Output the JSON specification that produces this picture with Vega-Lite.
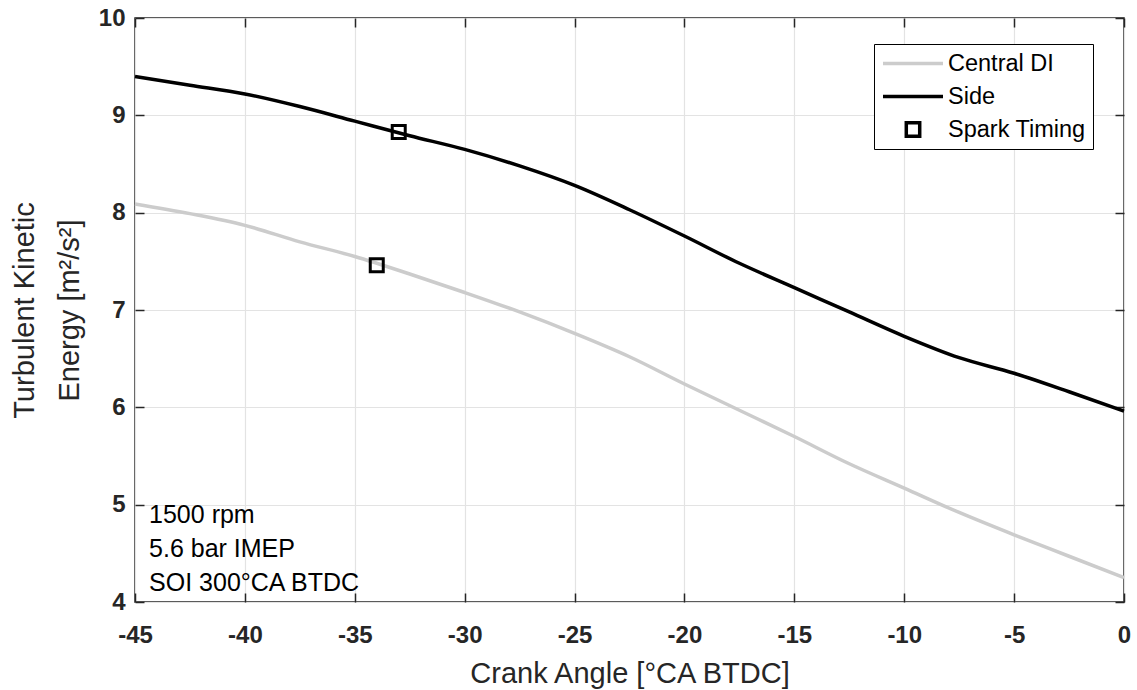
{
  "$schema": "https://vega.github.io/schema/vega-lite/v6.json",
  "width": 989,
  "height": 584,
  "autosize": {"type": "none"},
  "padding": {"left": 135, "top": 18, "right": 13, "bottom": 88},
  "background": "white",
  "config": {
    "font": "Liberation Sans",
    "view": {"stroke": "#262626", "strokeWidth": 1.5}
  },
  "datasets": {
    "curves": [
      {"series": "Central DI", "crank_angle": -45, "tke": 8.09},
      {"series": "Central DI", "crank_angle": -42.5, "tke": 7.99},
      {"series": "Central DI", "crank_angle": -40, "tke": 7.87},
      {"series": "Central DI", "crank_angle": -37.5, "tke": 7.70},
      {"series": "Central DI", "crank_angle": -35, "tke": 7.55},
      {"series": "Central DI", "crank_angle": -32.5, "tke": 7.37},
      {"series": "Central DI", "crank_angle": -30, "tke": 7.18},
      {"series": "Central DI", "crank_angle": -27.5, "tke": 6.98},
      {"series": "Central DI", "crank_angle": -25, "tke": 6.76},
      {"series": "Central DI", "crank_angle": -22.5, "tke": 6.52},
      {"series": "Central DI", "crank_angle": -20, "tke": 6.24},
      {"series": "Central DI", "crank_angle": -17.5, "tke": 5.97},
      {"series": "Central DI", "crank_angle": -15, "tke": 5.70},
      {"series": "Central DI", "crank_angle": -12.5, "tke": 5.42},
      {"series": "Central DI", "crank_angle": -10, "tke": 5.17},
      {"series": "Central DI", "crank_angle": -7.5, "tke": 4.92},
      {"series": "Central DI", "crank_angle": -5, "tke": 4.69},
      {"series": "Central DI", "crank_angle": -2.5, "tke": 4.47},
      {"series": "Central DI", "crank_angle": 0, "tke": 4.25},
      {"series": "Side", "crank_angle": -45, "tke": 9.40},
      {"series": "Side", "crank_angle": -42.5, "tke": 9.31},
      {"series": "Side", "crank_angle": -40, "tke": 9.22},
      {"series": "Side", "crank_angle": -37.5, "tke": 9.09},
      {"series": "Side", "crank_angle": -35, "tke": 8.94},
      {"series": "Side", "crank_angle": -32.5, "tke": 8.79},
      {"series": "Side", "crank_angle": -30, "tke": 8.65},
      {"series": "Side", "crank_angle": -27.5, "tke": 8.48},
      {"series": "Side", "crank_angle": -25, "tke": 8.28},
      {"series": "Side", "crank_angle": -22.5, "tke": 8.03},
      {"series": "Side", "crank_angle": -20, "tke": 7.76},
      {"series": "Side", "crank_angle": -17.5, "tke": 7.48},
      {"series": "Side", "crank_angle": -15, "tke": 7.23},
      {"series": "Side", "crank_angle": -12.5, "tke": 6.98},
      {"series": "Side", "crank_angle": -10, "tke": 6.73},
      {"series": "Side", "crank_angle": -7.5, "tke": 6.51},
      {"series": "Side", "crank_angle": -5, "tke": 6.35},
      {"series": "Side", "crank_angle": -2.5, "tke": 6.16},
      {"series": "Side", "crank_angle": 0, "tke": 5.96}
    ],
    "spark": [
      {"series": "Spark Timing", "curve": "Central DI", "crank_angle": -34, "tke": 7.46},
      {"series": "Spark Timing", "curve": "Side", "crank_angle": -33, "tke": 8.83}
    ]
  },
  "resolve": {"axis": {"x": "independent", "y": "independent"}},
  "layer": [
    {
      "data": {"name": "curves"},
      "mark": {"type": "line", "strokeWidth": 3.5, "interpolate": "monotone"},
      "encoding": {
        "x": {
          "field": "crank_angle", "type": "quantitative",
          "scale": {"domain": [-45, 0], "nice": false, "zero": false},
          "axis": {
            "orient": "bottom",
            "offset": -9,
            "values": [-45, -40, -35, -30, -25, -20, -15, -10, -5, 0],
            "labelExpr": "datum.value < 0 ? '-' + abs(datum.value) : '' + datum.value",
            "title": "Crank Angle [°CA BTDC]",
            "titleFont": "Liberation Sans", "titleFontSize": 29, "titleFontWeight": "normal", "titleColor": "#262626",
            "titlePadding": 12,
            "labelFont": "Liberation Sans", "labelFontSize": 24, "labelFontWeight": "bold", "labelColor": "#262626",
            "labelPadding": 21, "labelFlush": false, "labelOverlap": false,
            "domain": false,
            "ticks": true, "tickColor": "#262626", "tickSize": 9, "tickWidth": 1.5,
            "grid": true, "gridColor": "#e3e3e3", "gridWidth": 1.2
          }
        },
        "y": {
          "field": "tke", "type": "quantitative",
          "scale": {"domain": [4, 10], "nice": false, "zero": false},
          "axis": {
            "orient": "left",
            "offset": -9,
            "values": [4, 5, 6, 7, 8, 9, 10],
            "title": ["Turbulent Kinetic", "Energy [m²/s²]"],
            "titleFont": "Liberation Sans", "titleFontSize": 29, "titleFontWeight": "normal", "titleColor": "#262626",
            "titleAngle": -90, "titleBaseline": "middle", "titleAlign": "center",
            "titleX": -120, "titleY": 292, "titleLineHeight": 45,
            "labelFont": "Liberation Sans", "labelFontSize": 24, "labelFontWeight": "bold", "labelColor": "#262626",
            "labelPadding": 10, "labelFlush": false, "labelOverlap": false,
            "domain": false,
            "ticks": true, "tickColor": "#262626", "tickSize": 9, "tickWidth": 1.5,
            "grid": true, "gridColor": "#e3e3e3", "gridWidth": 1.2
          }
        },
        "color": {
          "field": "series", "type": "nominal",
          "scale": {"domain": ["Central DI", "Side", "Spark Timing"], "range": ["#cccccc", "#000000", "#000000"]},
          "legend": {
            "title": null,
            "orient": "none",
            "legendX": 739,
            "legendY": 26,
            "strokeColor": "#000000",
            "fillColor": "#ffffff",
            "padding": 7,
            "rowPadding": 8,
            "clipHeight": 25,
            "labelFont": "Liberation Sans",
            "labelFontSize": 23.5,
            "labelColor": "#000000",
            "labelOffset": 3,
            "symbolSize": 3600,
            "symbolStrokeWidth": 3.5,
            "symbolType": "stroke",
            "encode": {
              "symbols": {
                "update": {
                  "shape": {"signal": "datum.value === 'Spark Timing' ? 'square' : 'stroke'"},
                  "size": {"signal": "datum.value !== 'Spark Timing' ? 3600 : 180"},
                  "fill": {"value": "transparent"},
                  "strokeWidth": {"value": 3.5}
                }
              }
            }
          }
        }
      }
    },
    {
      "data": {"name": "spark"},
      "mark": {"type": "point", "shape": "square", "filled": false, "strokeWidth": 3, "size": 169, "opacity": 1},
      "encoding": {
        "x": {
          "field": "crank_angle", "type": "quantitative",
          "axis": {
            "orient": "top", "offset": -9, "labels": false, "title": null, "grid": false, "domain": false,
            "values": [-45, -40, -35, -30, -25, -20, -15, -10, -5, 0],
            "ticks": true, "tickColor": "#262626", "tickSize": 9, "tickWidth": 1.5
          }
        },
        "y": {
          "field": "tke", "type": "quantitative",
          "axis": {
            "orient": "right", "offset": -9, "labels": false, "title": null, "grid": false, "domain": false,
            "values": [4, 5, 6, 7, 8, 9, 10],
            "ticks": true, "tickColor": "#262626", "tickSize": 9, "tickWidth": 1.5
          }
        },
        "color": {"field": "series", "type": "nominal"}
      }
    },
    {
      "data": {"values": [{"note": "conditions"}]},
      "mark": {
        "type": "text",
        "text": ["1500 rpm", "5.6 bar IMEP", "SOI 300°CA BTDC"],
        "align": "left", "baseline": "alphabetic",
        "font": "Liberation Sans", "fontSize": 25, "color": "#000000", "lineHeight": 34
      },
      "encoding": {
        "x": {"datum": -44.36, "type": "quantitative", "axis": null},
        "y": {"datum": 4.815, "type": "quantitative", "axis": null}
      }
    }
  ]
}
